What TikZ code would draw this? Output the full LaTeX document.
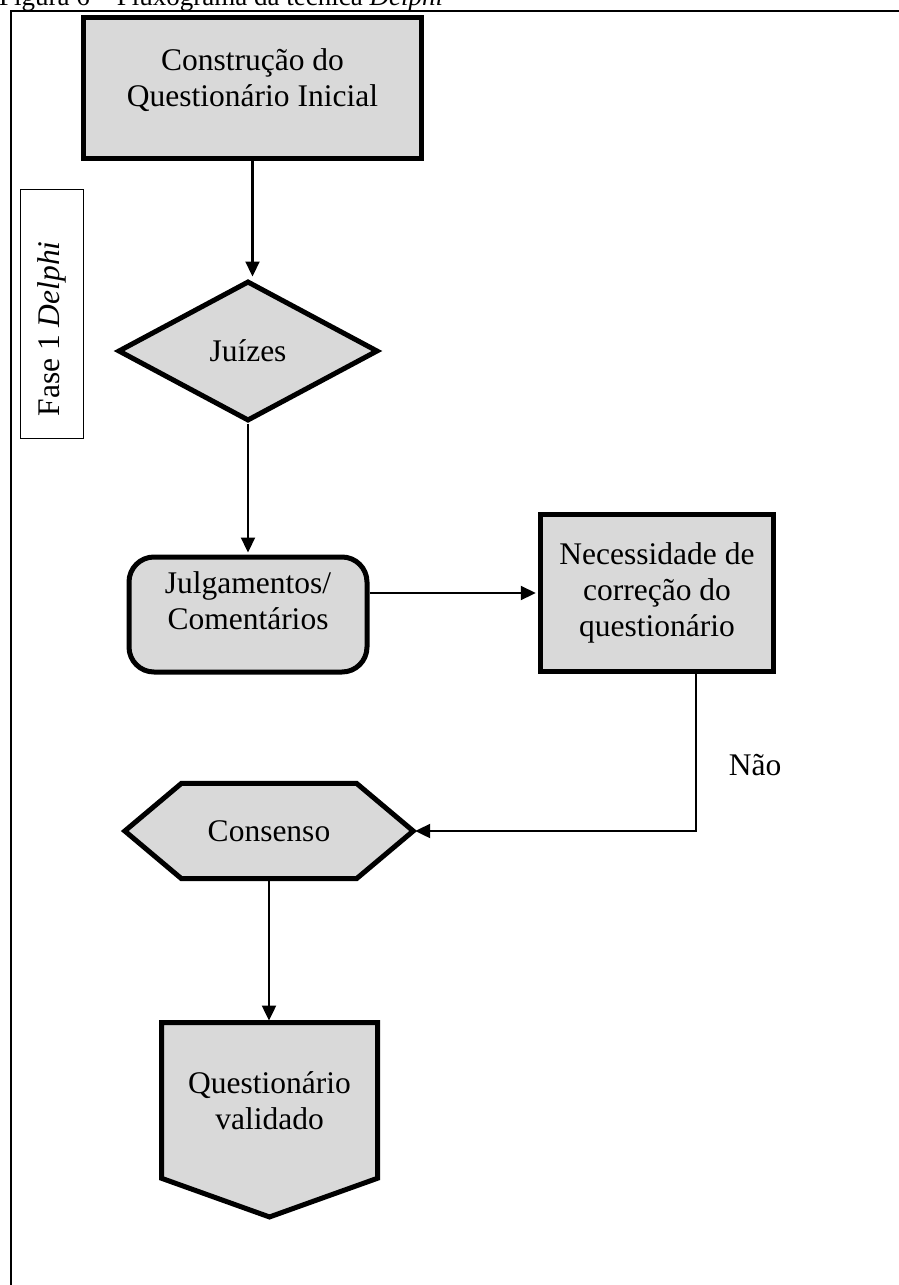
\documentclass[tikz,border=0pt]{standalone}
\usepackage{fontspec}
\setmainfont{Liberation Serif}
\usetikzlibrary{arrows.meta,shapes.geometric,backgrounds,calc}
\definecolor{boxgray}{HTML}{D9D9D9}
\begin{document}
\begin{tikzpicture}[x=1pt,y=-1pt,
  every node/.style={font=\fontsize{31.5}{36}\selectfont, inner sep=0pt},
  flowbox/.style={draw=black, line width=5pt, fill=boxgray, align=center},
  shapeline/.style={draw=black, line width=5pt, fill=boxgray, line join=miter},
  conn/.style={line width=2.2pt, shorten >=2pt, -{Triangle[length=15pt,width=14pt]}},
  framebox/.style={draw=black, line width=1.5pt}]
\useasboundingbox (0,0) rectangle (898,1285);
% title (cut at the top edge, as in the reference)
\node[anchor=base west, font=\fontsize{27}{31}\selectfont] (title) at (-1,5) {Figura 6 -- Fluxograma da técnica \textit{Delphi}};
% outer frame
\draw[line width=2pt] (10.5,1290) -- (10.5,11) -- (900,11);
% nodes
\node[flowbox, minimum width=338.5, minimum height=141] (q1) at (252.5,88) {\\[-30pt]Construção do\\Questionário Inicial};
\node[flowbox, diamond, minimum width=260, minimum height=140] (jui) at (248,351) {Juízes};
\node[flowbox, rounded corners=25pt, minimum width=238, minimum height=115] (julg) at (248,614.5) {Julgamentos/\\Comentários\\[-8pt]\mbox{}};
\node[flowbox, minimum width=233.5, minimum height=156.5] (nec) at (657,593) {Necessidade de\\correção do\\questionário};
\node[minimum width=288, minimum height=95] (cons) at (269,831) {Consenso};
\node[minimum width=215.6, minimum height=155.3, align=center] (val) at (269.5,1100.4) {Questionário\\validado};
\node[framebox, rotate=90, minimum height=62.6] (fase) at (52,313.8) {\makebox[249pt][l]{\hspace{22pt}Fase 1 \textit{Delphi}}};
% shapes drawn behind their text
\begin{scope}[on background layer]
\draw[shapeline] ([xshift=56.7pt]cons.north west) -- ([xshift=-56.7pt]cons.north east) -- (cons.east) -- ([xshift=-56.7pt]cons.south east) -- ([xshift=56.7pt]cons.south west) -- (cons.west) -- cycle;
\draw[shapeline] (val.north west) -- (val.north east) -- (val.south east) -- ([yshift=-38.7pt]val.south) -- (val.south west) -- cycle;
\end{scope}
% connectors
\draw[conn] (q1.south) -- (q1.south |- jui.north);
\draw[conn] (jui.south) -- (julg.north);
\draw[conn] (julg.east |- nec.west) -- (nec.west);
\draw[conn] ([xshift=38.7pt]nec.south) |- node[pos=0.29, right=32pt] (nao) {Não} (cons.east);
\draw[conn] (cons.south) -- (cons.south |- val.north);
\end{tikzpicture}
\end{document}
